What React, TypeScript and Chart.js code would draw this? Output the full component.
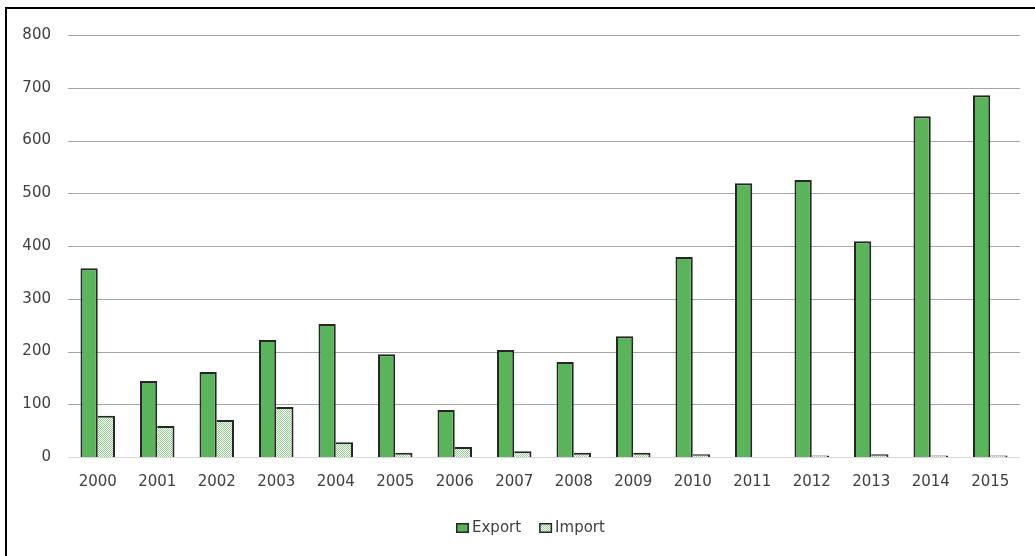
import React, { useEffect, useRef } from "react";
import { Chart, registerables } from "chart.js";

Chart.register(...registerables);

const years = ["2000", "2001", "2002", "2003", "2004", "2005", "2006", "2007", "2008", "2009", "2010", "2011", "2012", "2013", "2014", "2015"];
const exportValues = [358, 144, 161, 222, 252, 195, 89, 203, 180, 229, 379, 519, 525, 409, 646, 686];
const importValues = [78, 59, 70, 95, 28, 8, 19, 11, 8, 8, 5, 0, 3, 5, 3, 3];
const yTicks = [0, 100, 200, 300, 400, 500, 600, 700, 800];

const FONT = "'DejaVu Sans', 'Liberation Sans', sans-serif";
const TEXT = "#404040";
const EDGE = "#262626";

// Fine dotted fill used for the import bars
function makeDotPattern(): CanvasPattern | string {
  const c = document.createElement("canvas");
  c.width = 2;
  c.height = 2;
  const g = c.getContext("2d");
  if (!g) return "#c6e6c3";
  g.fillStyle = "#ffffff";
  g.fillRect(0, 0, 2, 2);
  g.fillStyle = "#8fcf8b";
  g.fillRect(0, 0, 1, 1);
  g.fillRect(1, 1, 1, 1);
  const p = g.createPattern(c, "repeat");
  return p || "#c6e6c3";
}

// Horizontal value grid spanning exactly the plot area
const gridPlugin = {
  id: "valueGrid",
  beforeDatasetsDraw(chart: any) {
    const { ctx, chartArea, scales } = chart;
    const y = scales.y;
    ctx.save();
    ctx.lineWidth = 1;
    for (const v of yTicks) {
      const py = Math.round(y.getPixelForValue(v)) + 0.5;
      ctx.strokeStyle = v === 0 ? "#d9d9d9" : "#a6a6a6";
      ctx.beginPath();
      ctx.moveTo(chartArea.left, py);
      ctx.lineTo(chartArea.right, py);
      ctx.stroke();
    }
    ctx.restore();
  },
};

// Compact legend row below the axis labels
const legendRowPlugin = {
  id: "legendRow",
  afterDraw(chart: any) {
    const { ctx } = chart;
    const centerX = 530;
    const midY = 528;
    const boxW = 13;
    const boxH = 10;
    const gap = 3;
    const itemGap = 18;
    ctx.save();
    ctx.font = `15px ${FONT}`;
    ctx.textBaseline = "middle";
    const items = chart.data.datasets.map((ds: any) => ({
      label: ds.label,
      fill: ds.backgroundColor,
      w: ctx.measureText(ds.label).width,
    }));
    const total = items.reduce((s: number, it: any) => s + boxW + gap + it.w, 0) + itemGap * (items.length - 1);
    let x = Math.round(centerX - total / 2);
    for (const it of items) {
      const top = Math.round(midY - boxH / 2);
      ctx.fillStyle = it.fill;
      ctx.fillRect(x, top, boxW, boxH);
      ctx.strokeStyle = EDGE;
      ctx.lineWidth = 1.5;
      ctx.strokeRect(x + 0.75, top + 0.75, boxW - 1.5, boxH - 1.5);
      ctx.fillStyle = TEXT;
      ctx.fillText(it.label, x + boxW + gap, midY);
      x += boxW + gap + it.w + itemGap;
    }
    ctx.restore();
  },
};

export default function App() {
  const canvasRef = useRef<HTMLCanvasElement | null>(null);

  useEffect(() => {
    const canvas = canvasRef.current;
    if (!canvas) return;
    const dots = makeDotPattern();
    const chart = new Chart(canvas, {
      type: "bar",
      data: {
        labels: years,
        datasets: [
          {
            label: "Export",
            data: exportValues,
            backgroundColor: "#5ab55a",
            borderColor: EDGE,
            borderWidth: { left: 2, top: 2, right: 2, bottom: 0 },
            borderSkipped: false,
            categoryPercentage: 0.58,
            barPercentage: 1.0,
          },
          {
            label: "Import",
            data: importValues,
            backgroundColor: dots as any,
            borderColor: EDGE,
            borderWidth: { left: 0, top: 2, right: 2, bottom: 0 },
            borderSkipped: false,
            categoryPercentage: 0.58,
            barPercentage: 1.0,
          },
        ],
      },
      options: {
        responsive: false,
        animation: false,
        layout: { padding: { left: 0, right: 15, top: 35, bottom: 53 } },
        plugins: {
          tooltip: { enabled: false },
          legend: { display: false },
        },
        scales: {
          x: {
            grid: { display: false, drawTicks: false },
            border: { display: false },
            ticks: { color: TEXT, padding: 16, font: { family: FONT, size: 15 } },
            afterFit: (s: any) => {
              s.height = 46;
            },
          },
          y: {
            min: 0,
            max: 800,
            afterBuildTicks: (s: any) => {
              s.ticks = yTicks.map((v) => ({ value: v }));
            },
            grid: { display: false, drawTicks: false },
            border: { display: false },
            ticks: { color: TEXT, padding: 17, font: { family: FONT, size: 15 } },
            afterFit: (s: any) => {
              s.width = 68;
            },
          },
        },
      },
      plugins: [gridPlugin, legendRowPlugin],
    });
    return () => chart.destroy();
  }, []);

  return (
    <div style={{ position: "fixed", left: 0, top: 0, width: 1035, height: 556, background: "#fff", overflow: "hidden" }}>
      <canvas ref={canvasRef} width={1035} height={556} style={{ display: "block" }} />
      <div
        style={{
          position: "absolute",
          left: 5,
          top: 7,
          width: 1100,
          height: 600,
          borderLeft: "2px solid #000",
          borderTop: "2px solid #000",
          pointerEvents: "none",
        }}
      />
    </div>
  );
}
